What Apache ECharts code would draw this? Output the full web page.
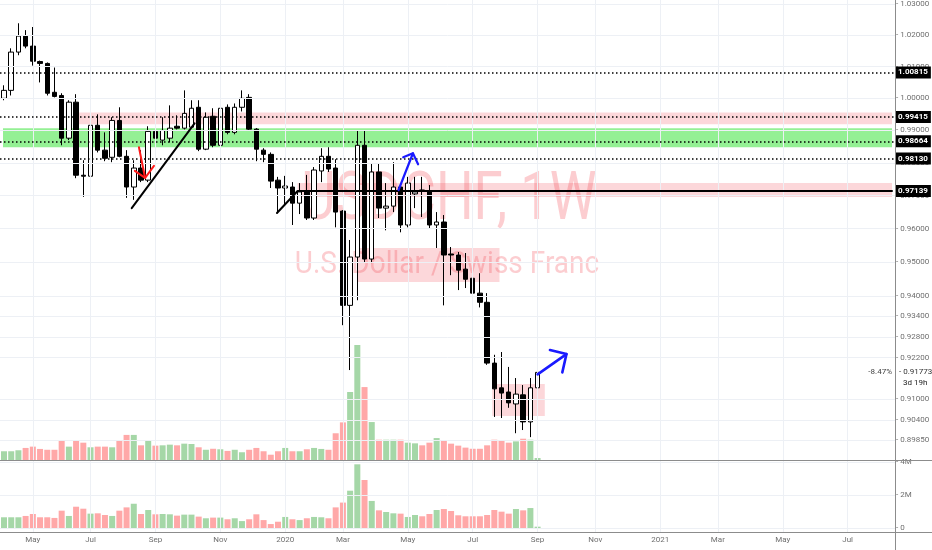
<!DOCTYPE html>
<html>
<head>
<meta charset="utf-8">
<script src="https://cdn.jsdelivr.net/npm/echarts@6.0.0/dist/echarts.min.js"></script>
<style>
html,body{margin:0;padding:0;background:#ffffff;}
#chart{width:932px;height:550px;}
</style>
</head>
<body>
<div id="chart"></div>
<script>
// ---------- data ----------
const weekDates = ['2019-04-08','2019-04-15','2019-04-22','2019-04-29','2019-05-06','2019-05-13','2019-05-20','2019-05-27',
'2019-06-03','2019-06-10','2019-06-17','2019-06-24','2019-07-01','2019-07-08','2019-07-15','2019-07-22','2019-07-29',
'2019-08-05','2019-08-12','2019-08-19','2019-08-26','2019-09-02','2019-09-09','2019-09-16','2019-09-23','2019-09-30',
'2019-10-07','2019-10-14','2019-10-21','2019-10-28','2019-11-04','2019-11-11','2019-11-18','2019-11-25',
'2019-12-02','2019-12-09','2019-12-16','2019-12-23','2019-12-30','2020-01-06','2020-01-13','2020-01-20','2020-01-27',
'2020-02-03','2020-02-10','2020-02-17','2020-02-24','2020-03-02','2020-03-09','2020-03-16','2020-03-23','2020-03-30',
'2020-04-06','2020-04-13','2020-04-20','2020-04-27','2020-05-04','2020-05-11','2020-05-18','2020-05-25',
'2020-06-01','2020-06-08','2020-06-15','2020-06-22','2020-06-29','2020-07-06','2020-07-13','2020-07-20','2020-07-27',
'2020-08-03','2020-08-10','2020-08-17','2020-08-24','2020-08-31','2020-09-07'];

const opens = [1.0000,1.0025,1.0146,1.0197,1.0165,1.0116,1.0110,1.0019,1.0009,0.9876,
0.9988,0.9762,0.9759,0.9916,0.9839,0.9817,0.9931,0.9820,0.9726,0.9784,
0.9747,0.9897,0.9870,0.9876,0.9913,0.9907,0.9910,0.9972,0.9842,0.9944,
0.9854,0.9972,0.9894,0.9972,1.0003,0.9904,0.9839,0.9826,0.9747,0.9723,
0.9726,0.9677,0.9714,0.9632,0.9775,0.9820,0.9784,0.9653,0.9372,0.9515,
0.9854,0.9509,0.9772,0.9662,0.9668,0.9726,0.9611,0.9705,0.9717,0.9711,
0.9611,0.9620,0.9524,0.9521,0.9479,0.9452,0.9408,0.9381,0.9204,0.9133,
0.9121,0.9087,0.9113,0.9036,0.9133];
const closes = [1.0025,1.0146,1.0197,1.0165,1.0117,1.0110,1.0016,1.0006,0.9876,0.9988,
0.9762,0.9759,0.9916,0.9839,0.9814,0.9931,0.9820,0.9726,0.9784,0.9747,
0.9897,0.9876,0.9900,0.9907,0.9907,0.9953,0.9969,0.9842,0.9941,0.9854,
0.9969,0.9894,0.9972,1.0000,0.9904,0.9842,0.9826,0.9744,0.9723,0.9729,
0.9677,0.9711,0.9632,0.9778,0.9820,0.9781,0.9650,0.9372,0.9515,0.9854,
0.9509,0.9772,0.9662,0.9668,0.9726,0.9611,0.9738,0.9711,0.9714,0.9611,
0.9620,0.9521,0.9521,0.9476,0.9449,0.9408,0.9381,0.9204,0.9130,0.9118,
0.9090,0.9115,0.9036,0.9133,0.91773];
const highs = [1.0041,1.0158,1.0238,1.0216,1.0226,1.0119,1.0113,1.0097,1.0016,0.9994,
1.0013,0.9808,0.9922,0.9950,0.9894,0.9941,0.9972,0.9839,0.9808,0.9839,
0.9913,0.9925,0.9941,0.9978,0.9947,1.0025,0.9994,0.9994,0.9956,0.9969,
0.9975,0.9981,0.9984,1.0025,1.0013,0.9907,0.9845,0.9832,0.9757,0.9760,
0.9741,0.9738,0.9763,0.9787,0.9845,0.9848,0.9811,0.9656,0.9566,0.9900,
0.9900,0.9799,0.9799,0.9738,0.9802,0.9738,0.9757,0.9757,0.9757,0.9732,
0.9650,0.9641,0.9545,0.9530,0.9527,0.9467,0.9467,0.9408,0.9228,0.9236,
0.9193,0.9161,0.9141,0.9161,0.9184];
const lows = [0.9994,1.0009,1.0136,1.0158,1.0103,1.0050,1.0009,1.0003,0.9854,0.9870,
0.9753,0.9696,0.9756,0.9832,0.9805,0.9802,0.9817,0.9693,0.9687,0.9741,
0.9741,0.9839,0.9854,0.9863,0.9903,0.9903,0.9907,0.9836,0.9839,0.9848,
0.9851,0.9888,0.9888,0.9959,0.9900,0.9805,0.9802,0.9723,0.9647,0.9671,
0.9611,0.9644,0.9626,0.9626,0.9741,0.9772,0.9604,0.9314,0.9184,0.9387,
0.9500,0.9497,0.9632,0.9595,0.9650,0.9589,0.9604,0.9662,0.9635,0.9601,
0.9542,0.9372,0.9461,0.9417,0.9423,0.9357,0.9366,0.9199,0.9050,0.9047,
0.9076,0.9004,0.9013,0.8993,0.9118];

// volume overlay in the price pane and the separate volume pane (millions)
const volumeOverlay = [0.53,0.53,0.59,0.73,0.81,0.67,0.62,0.62,1.17,0.81,
1.19,1.05,0.77,0.81,0.81,0.77,1.21,1.52,1.52,0.89,
1.15,0.87,0.89,0.93,0.89,0.99,0.97,0.77,0.62,0.68,
0.65,0.55,0.62,0.47,0.62,0.73,0.53,0.32,0.53,0.73,
0.53,0.53,0.65,0.73,0.67,0.62,1.62,2.28,4.12,6.97,
4.42,2.30,1.23,1.23,1.23,1.23,1.05,1.01,0.89,1.05,
1.33,1.21,0.99,0.87,0.75,0.68,0.68,0.89,1.23,1.17,
1.05,1.13,1.29,1.23,0.12];
const volumePane = [0.65,0.65,0.65,0.73,0.85,0.65,0.65,0.61,1.05,0.73,
1.29,1.17,0.87,0.89,0.79,0.73,1.05,1.25,1.47,0.85,
1.09,0.83,0.85,0.83,0.75,0.81,0.81,0.69,0.59,0.63,
0.63,0.53,0.59,0.42,0.53,0.83,0.48,0.24,0.38,0.67,
0.53,0.48,0.59,0.67,0.65,0.59,1.25,1.54,2.26,3.86,
2.91,1.64,1.07,0.97,0.89,0.87,0.67,0.79,0.71,0.85,
1.09,1.15,1.03,0.77,0.71,0.71,0.71,0.79,1.09,0.99,
0.87,1.15,1.07,1.21,0.08];

// axis ticks
const priceTicks = [1.03,1.02,1.01,1.00,0.99,0.98,0.97,0.96,0.95,0.94,0.934,0.928,0.922,0.91,0.904,0.8985];
const volumeTicks = [0,2,4];
const volumeTickLabels = ['0','2M','4M'];
const xTickDates = ['2019-05-06','2019-07-01','2019-09-02','2019-11-04','2020-01-06','2020-03-02','2020-05-04',
'2020-07-06','2020-09-07','2020-11-02','2021-01-04','2021-03-01','2021-05-03','2021-07-05'];
const xTickLabels = ['May','Jul','Sep','Nov','2020','Mar','May','Jul','Sep','Nov','2021','Mar','May','Jul'];
const xMin = '2019-04-07T01:00:00';
const xMax = '2021-08-17T01:00:00';

// drawn levels / zones / drawings
const dottedLevels = [1.00815, 0.99415, 0.98664, 0.98130];
const solidLevel = 0.97139;
const lastPrice = 0.91773;
const greenZone = [0.99066, 0.98479];
const pinkZoneTop = ['2019-06-16', 0.99560, 0.99189];
const pinkZoneLevel = ['2020-01-18', 0.97382, 0.96956];
const pinkBoxMiddle = ['2020-03-16', '2020-08-01', 0.95417, 0.94406];
const pinkBoxBottom = ['2020-07-25', '2020-09-14', 0.91439, 0.90527];
const trendLine1 = [['2019-08-10', 0.9662], ['2019-10-10', 0.9922]];
const trendLine2 = [['2019-12-29', 0.9647], ['2020-01-18', 0.97139], [xMax, 0.97139]];
const redArrowShaft = [['2019-08-17', 0.98479], ['2019-08-23', 0.97537]];
const redArrowHead = [['2019-08-13', 0.97753], ['2019-08-23', 0.97537], ['2019-08-31T14:00:00', 0.97906]];
const blueArrow1Shaft = [['2020-04-25', 0.97169], ['2020-05-09', 0.98294]];
const blueArrow1Head = [['2020-04-29T14:00:00', 0.98170], ['2020-05-09', 0.98294], ['2020-05-14', 0.97954]];
const blueArrow2Shaft = [['2020-09-07', 0.91716], ['2020-10-05', 0.92300]];
const blueArrow2Head = [['2020-09-19', 0.92419], ['2020-10-05', 0.92300], ['2020-10-01', 0.91773]];

// ---------- styles ----------
const GRID_COLOR = '#edf0f5';
const AXIS_TEXT = '#6f6f6f';
const UP_VOL = 'rgba(76,175,80,0.5)';
const DN_VOL = 'rgba(255,82,82,0.5)';
const PINK = 'rgba(242,54,69,0.2)';
const GREEN = 'rgba(0,220,0,0.42)';
const CLEAR = 'rgba(0,0,0,0)';

const candleData = weekDates.map((d, i) => [d, opens[i], closes[i], lows[i], highs[i]]);
const volColor = i => closes[i] >= opens[i] ? UP_VOL : DN_VOL;
const overlayData = volumeOverlay.map((v, i) => ({ value: [weekDates[i], v], itemStyle: { color: volColor(i) } }));
const paneData = volumePane.map((v, i) => ({ value: [weekDates[i], v], itemStyle: { color: volColor(i) } }));

function drawLine(data, color, width) {
  return { type: 'line', xAxisIndex: 0, yAxisIndex: 0, data: data, symbol: 'none', silent: true, z: 5,
    lineStyle: { color: color, width: width, cap: 'round', join: 'round' } };
}

const chart = echarts.init(document.getElementById('chart'), null, { renderer: 'canvas' });
const option = {
  animation: false,
  backgroundColor: '#ffffff',
  textStyle: { fontFamily: 'Roboto, "Liberation Sans", sans-serif' },
  grid: [
    { left: 0, right: 37, top: 0, height: 460 },
    { left: 0, right: 37, top: 460, height: 72 }
  ],
  xAxis: [
    { type: 'time', gridIndex: 0, min: xMin, max: xMax, axisLine: { show: false }, axisTick: { show: false },
      axisLabel: { show: false }, splitLine: { show: false } },
    { type: 'time', gridIndex: 1, min: xMin, max: xMax, axisLine: { show: false }, axisTick: { show: false },
      axisLabel: { show: false }, splitLine: { show: false } }
  ],
  yAxis: [
    { type: 'log', logBase: 10, gridIndex: 0, position: 'right', min: 0.89288, max: 1.03129,
      axisLine: { show: false }, axisTick: { show: false }, axisLabel: { show: false }, splitLine: { show: false } },
    { type: 'value', gridIndex: 0, position: 'right', min: 0, max: 27.88, show: false },
    { type: 'value', gridIndex: 1, position: 'right', min: -0.242, max: 4.121,
      axisLine: { show: false }, axisTick: { show: false }, axisLabel: { show: false }, splitLine: { show: false } }
  ],
  graphic: [
    { type: 'text', z: 0, x: 449, y: 202, scaleX: 0.8, silent: true,
      style: { text: 'USDCHF, 1W', fontSize: 66, fontFamily: 'Roboto', fill: 'rgba(242,54,69,0.25)',
        textAlign: 'center', textVerticalAlign: 'middle' } },
    { type: 'text', z: 0, x: 447, y: 265, scaleY: 1.1, silent: true,
      style: { text: 'U.S. Dollar / Swiss Franc', fontSize: 28, fontFamily: 'Roboto', fill: 'rgba(242,54,69,0.25)',
        textAlign: 'center', textVerticalAlign: 'middle' } },
    { type: 'line', z: 50, silent: true, shape: { x1: 0, y1: 460.5, x2: 932, y2: 460.5 }, style: { stroke: '#8c8c8c', lineWidth: 1 } },
    { type: 'line', z: 50, silent: true, shape: { x1: 0, y1: 532.5, x2: 932, y2: 532.5 }, style: { stroke: '#8c8c8c', lineWidth: 1 } },
    { type: 'line', z: 50, silent: true, shape: { x1: 895.5, y1: 0, x2: 895.5, y2: 550 }, style: { stroke: '#8c8c8c', lineWidth: 1 } },
    { type: 'text', z: 50, x: 892, y: 372, silent: true,
      style: { text: '-8.47%', fontSize: 8, fill: '#444', textAlign: 'right', textVerticalAlign: 'middle', fontFamily: 'Roboto' } },
    { type: 'text', z: 50, x: 903, y: 383, silent: true,
      style: { text: '3d 19h', fontSize: 8, fill: '#222', textAlign: 'left', textVerticalAlign: 'middle', fontFamily: 'Roboto' } }
  ],
  series: [
    // grid lines + price labels
    { type: 'line', xAxisIndex: 0, yAxisIndex: 0, data: [], z: 0, silent: true,
      markLine: { silent: true, symbol: ['none', 'none'], animation: false, precision: 6,
        lineStyle: { color: GRID_COLOR, width: 1, type: 'solid' },
        label: { show: true, position: 'end', distance: 1, color: AXIS_TEXT, fontSize: 8,
          formatter: p => '- ' + (+p.value).toFixed(5) },
        data: priceTicks.map(v => ({ yAxis: v })).concat(
          xTickDates.map(d => ({ xAxis: d, label: { show: false } }))) } },
    { type: 'line', xAxisIndex: 1, yAxisIndex: 2, data: [], z: 0, silent: true,
      markLine: { silent: true, symbol: ['none', 'none'], animation: false, precision: 6,
        lineStyle: { color: GRID_COLOR, width: 1, type: 'solid' },
        label: { show: true, position: 'end', distance: 1, color: AXIS_TEXT, fontSize: 8 },
        data: volumeTicks.map((v, i) => ({ yAxis: v, label: { formatter: '- ' + volumeTickLabels[i] } })).concat(
          xTickDates.map((d, i) => ({ xAxis: d,
            label: { show: true, position: 'start', distance: 4, formatter: xTickLabels[i], color: AXIS_TEXT, fontSize: 8 } }))) } },
    // volume overlay
    { type: 'bar', xAxisIndex: 0, yAxisIndex: 1, data: overlayData, barWidth: 6, z: 1, silent: true },
    // candles
    { type: 'candlestick', xAxisIndex: 0, yAxisIndex: 0, data: candleData,
      barWidth: 5, z: 2, silent: true,
      itemStyle: { color: '#ffffff', color0: '#000000', borderColor: '#000000', borderColor0: '#000000', borderWidth: 1 } },
    // zones on top of candles
    { type: 'line', xAxisIndex: 0, yAxisIndex: 0, data: [], z: 3, silent: true,
      markArea: { silent: true, animation: false, itemStyle: { color: PINK },
        data: [
          [{ xAxis: xMin, yAxis: greenZone[0], itemStyle: { color: GREEN } }, { xAxis: xMax, yAxis: greenZone[1] }],
          [{ xAxis: pinkZoneTop[0], yAxis: pinkZoneTop[1] }, { xAxis: xMax, yAxis: pinkZoneTop[2] }],
          [{ xAxis: pinkZoneLevel[0], yAxis: pinkZoneLevel[1] }, { xAxis: xMax, yAxis: pinkZoneLevel[2] }],
          [{ xAxis: pinkBoxMiddle[0], yAxis: pinkBoxMiddle[2] }, { xAxis: pinkBoxMiddle[1], yAxis: pinkBoxMiddle[3] }],
          [{ xAxis: pinkBoxBottom[0], yAxis: pinkBoxBottom[2] }, { xAxis: pinkBoxBottom[1], yAxis: pinkBoxBottom[3] }]
        ] } },
    // drawings
    drawLine(trendLine1, '#000000', 2),
    drawLine(trendLine2, '#000000', 2),
    drawLine(redArrowShaft, '#ff1a1a', 2),
    drawLine(redArrowHead, '#ff1a1a', 2),
    drawLine(blueArrow1Shaft, '#1a1aff', 2.2),
    drawLine(blueArrow1Head, '#1a1aff', 2.2),
    drawLine(blueArrow2Shaft, '#1a1aff', 2.6),
    drawLine(blueArrow2Head, '#1a1aff', 2.6),
    // horizontal levels with black price boxes
    { type: 'line', xAxisIndex: 0, yAxisIndex: 0, data: [], z: 6, silent: true,
      markLine: { silent: true, symbol: ['none', 'none'], animation: false, precision: 6,
        lineStyle: { color: '#000000', width: 1.5, type: [1.5, 2.5] },
        label: { show: true, position: 'end', distance: 0, color: '#ffffff', fontSize: 8, fontWeight: 'bold',
          backgroundColor: '#000000', padding: [2, 3, 2, 3], formatter: p => (+p.value).toFixed(5) },
        data: dottedLevels.map(v => ({ yAxis: v })).concat([
          { yAxis: solidLevel, lineStyle: { color: CLEAR, width: 1, type: 'solid' } },
          { yAxis: lastPrice, lineStyle: { color: CLEAR, width: 1, type: 'solid' },
            label: { color: '#333333', backgroundColor: CLEAR, fontWeight: 'normal', distance: 1,
              formatter: p => '- ' + (+p.value).toFixed(5) } }
        ]) } },
    // volume pane
    { type: 'bar', xAxisIndex: 1, yAxisIndex: 2, data: paneData, barWidth: 6, z: 1, silent: true }
  ]
};
chart.setOption(option);
</script>
</body>
</html>
